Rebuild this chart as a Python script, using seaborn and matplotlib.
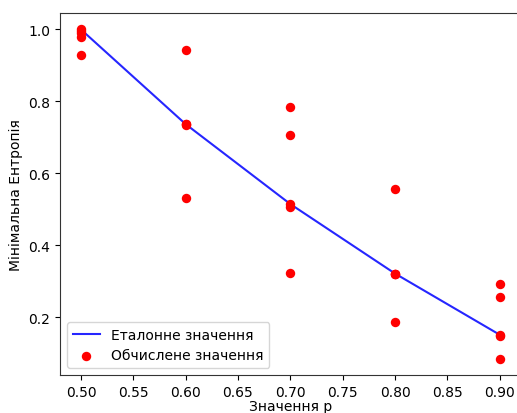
import matplotlib
matplotlib.use("Agg")
import matplotlib.pyplot as plt
import seaborn as sns
import pandas as pd

# Data
p_values = [0.5, 0.6, 0.7, 0.8, 0.9]
reference_entropy = [1.0, 0.737, 0.515, 0.322, 0.152]

computed_p = [0.5] * 5 + [0.6] * 5 + [0.7] * 5 + [0.8] * 5 + [0.9] * 5
computed_entropy = [
    1.0, 0.995, 0.98, 0.99, 0.93,
    0.9425, 0.737, 0.737, 0.735, 0.531,
    0.784, 0.708, 0.515, 0.508, 0.324,
    0.556, 0.322, 0.322, 0.320, 0.188,
    0.292, 0.256, 0.152, 0.150, 0.086,
]

ref_df = pd.DataFrame({"p": p_values, "h": reference_entropy})
comp_df = pd.DataFrame({"p": computed_p, "h": computed_entropy})

fig = plt.figure(figsize=(5.17, 4.14), dpi=100)
ax = fig.add_axes([60 / 517, 38 / 414, 460.7 / 517, 362 / 414])

sns.lineplot(data=ref_df, x="p", y="h", color="blue", linewidth=1.5,
             label="Еталонне значення", ax=ax, alpha=0.85)
sns.scatterplot(data=comp_df, x="p", y="h", color="red", s=46, linewidth=0,
                label="Обчислене значення", ax=ax, zorder=3)

ax.set_xlabel("Значення p", labelpad=0)
ax.set_ylabel("Мінімальна Ентропія")
ax.set_xticks([0.5, 0.55, 0.6, 0.65, 0.7, 0.75, 0.8, 0.85, 0.9])
ax.set_xticklabels(["0.50", "0.55", "0.60", "0.65", "0.70", "0.75", "0.80", "0.85", "0.90"])
ax.set_yticks([0.2, 0.4, 0.6, 0.8, 1.0])
ax.set_xlim(0.48, 0.92)
ax.set_ylim(0.0403, 1.0457)
for s in ax.spines.values():
    s.set_color("#333333")
ax.legend(loc="lower left")

fig.savefig("out.png", dpi=100)
